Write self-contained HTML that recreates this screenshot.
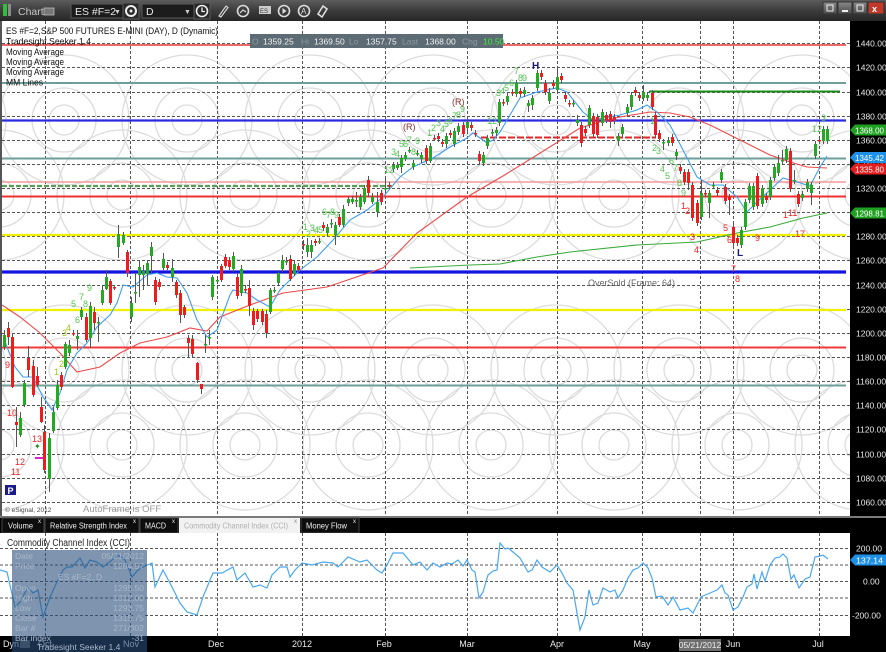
<!DOCTYPE html>
<html><head><meta charset="utf-8">
<style>
html,body{margin:0;padding:0;background:#000;width:886px;height:652px;overflow:hidden}
svg{display:block;font-family:"Liberation Sans",Arial,sans-serif}
</style></head><body>
<svg id="s" width="886" height="652" viewBox="0 0 886 652" xmlns="http://www.w3.org/2000/svg">
<defs>
<linearGradient id="tb" x1="0" y1="0" x2="0" y2="1"><stop offset="0" stop-color="#5c5c5c"/><stop offset="0.5" stop-color="#3c3c3c"/><stop offset="1" stop-color="#262626"/></linearGradient>
<linearGradient id="wb" x1="0" y1="0" x2="0" y2="1"><stop offset="0" stop-color="#8a8a8a"/><stop offset="1" stop-color="#4a4a4a"/></linearGradient>
<clipPath id="cp"><rect x="2" y="21" width="848" height="495"/></clipPath>
<clipPath id="cp2"><rect x="0" y="533" width="850" height="103"/></clipPath>
</defs>
<rect width="886" height="652" fill="#000"/>

<!-- toolbar -->
<rect x="0" y="0" width="886" height="21" fill="url(#tb)"/>
<rect x="3" y="4" width="4" height="12" fill="#2fbf3a"/>
<rect x="8" y="4" width="3" height="12" fill="#8a8a8a"/>
<text x="18" y="15" font-size="10.5" fill="#c8c8c8">Chart</text>
<rect x="44" y="8" width="10" height="7" fill="#777" stroke="#bbb" stroke-width="0.8"/>
<rect x="71" y="4" width="52" height="14" fill="#1c1c1c" stroke="#5a5a5a"/>
<text x="75" y="15" font-size="10.5" fill="#e8e8e8">ES #F=2</text>
<text x="114" y="14" font-size="7" fill="#ccc">▼</text>
<rect x="123" y="3" width="16" height="16" fill="#2a2a2a" stroke="#5a5a5a"/>
<circle cx="131" cy="11" r="5" fill="none" stroke="#eee" stroke-width="2"/>
<circle cx="131" cy="11" r="1.5" fill="#eee"/>
<rect x="142" y="4" width="52" height="14" fill="#1c1c1c" stroke="#5a5a5a"/>
<text x="146" y="15" font-size="10.5" fill="#e8e8e8">D</text>
<text x="184" y="14" font-size="7" fill="#ccc">▼</text>
<rect x="194" y="3" width="16" height="16" fill="#2a2a2a" stroke="#5a5a5a"/>
<circle cx="202" cy="11" r="5.5" fill="none" stroke="#eee" stroke-width="1.6"/>
<path d="M202 7.5V11.5H205" stroke="#eee" stroke-width="1.3" fill="none"/>
<path d="M219 16L226 6L228 7.5L221 17Z" fill="none" stroke="#ddd" stroke-width="1.1"/>
<circle cx="243" cy="11" r="5.5" fill="none" stroke="#ddd" stroke-width="1.6"/>
<path d="M240 13L243 10L246 12" stroke="#ddd" stroke-width="1.2" fill="none"/>
<rect x="259" y="6" width="12" height="8" fill="#ccc"/><text x="260" y="13" font-size="6" fill="#333">ES</text>
<circle cx="284" cy="11" r="5.5" fill="none" stroke="#ddd" stroke-width="1.6"/>
<path d="M282.5 8V14L286.5 11Z" fill="#ddd"/>
<circle cx="304" cy="11" r="5.5" fill="none" stroke="#ddd" stroke-width="1.6"/>
<text x="301" y="14" font-size="8" fill="#ddd">A</text>
<path d="M318 14L323 6L327 9L322 17Z" fill="none" stroke="#ddd" stroke-width="1.6"/>
<rect x="823" y="2" width="14" height="12" fill="url(#wb)" stroke="#333"/>
<rect x="838" y="2" width="14" height="12" fill="url(#wb)" stroke="#333"/>
<rect x="853" y="2" width="14" height="12" fill="url(#wb)" stroke="#333"/>
<rect x="868" y="2" width="16" height="12" fill="#c0392b" stroke="#333"/>
<text x="872" y="12" font-size="9" font-weight="bold" fill="#fff">x</text>
<rect x="827" y="5" width="6" height="6" fill="none" stroke="#eee"/>
<rect x="842" y="10" width="6" height="2" fill="#eee"/>
<rect x="857" y="5" width="6" height="6" fill="none" stroke="#eee"/>

<!-- main plot -->
<rect x="0" y="21" width="850" height="495" fill="#fff"/>
<rect x="0" y="21" width="2" height="495" fill="#555"/>
<g id="circ" clip-path="url(#cp)" fill="none" stroke="#dcdcdc" stroke-width="1.3"></g>
<g id="grid" stroke="#555" stroke-width="1" stroke-dasharray="3,2"></g>
<g id="vgrid" stroke="#555" stroke-width="1" stroke-dasharray="3,2"></g>

<!-- horizontal levels -->
<g fill="none">
<line x1="2" y1="45" x2="846" y2="45" stroke="#e83a3a" stroke-width="1.6"/>
<line x1="2" y1="83" x2="846" y2="83" stroke="#6e9e9a" stroke-width="2"/>
<line x1="649" y1="91.5" x2="840" y2="91.5" stroke="#1e8a1e" stroke-width="2"/>
<line x1="2" y1="120.5" x2="846" y2="120.5" stroke="#2a2ae0" stroke-width="2.2"/>
<line x1="481" y1="137.5" x2="656" y2="137.5" stroke="#e02828" stroke-width="2" stroke-dasharray="7,2"/>
<line x1="2" y1="158.5" x2="846" y2="158.5" stroke="#6e9e9a" stroke-width="2"/>
<line x1="2" y1="182" x2="846" y2="182" stroke="#f29a9a" stroke-width="1.6"/>
<line x1="2" y1="186" x2="393" y2="186" stroke="#5a9e5a" stroke-width="2.2" stroke-dasharray="5,2"/>
<line x1="2" y1="196.5" x2="846" y2="196.5" stroke="#f03030" stroke-width="2"/>
<line x1="2" y1="235" x2="846" y2="235" stroke="#f0f000" stroke-width="2.2"/>
<line x1="2" y1="272" x2="846" y2="272" stroke="#1414e0" stroke-width="3.2"/>
<line x1="2" y1="310" x2="846" y2="310" stroke="#f0f000" stroke-width="2.2"/>
<line x1="2" y1="347.5" x2="846" y2="347.5" stroke="#f03a3a" stroke-width="2"/>
<line x1="2" y1="385.5" x2="846" y2="385.5" stroke="#6e9e9a" stroke-width="2"/>
</g>

<g id="ma" fill="none" clip-path="url(#cp)"></g>
<g id="candles"></g>
<g id="labels" font-size="9"></g>

<!-- legend -->
<g font-size="9.5" fill="#111">
<text x="6" y="34" textLength="212" lengthAdjust="spacingAndGlyphs">ES #F=2,S&amp;P 500 FUTURES E-MINI (DAY), D (Dynamic)</text>
<text x="6" y="44.5" textLength="85" lengthAdjust="spacingAndGlyphs">Tradesight Seeker 1.4</text>
<text x="6" y="55" textLength="58" lengthAdjust="spacingAndGlyphs">Moving Average</text>
<text x="6" y="65" textLength="58" lengthAdjust="spacingAndGlyphs">Moving Average</text>
<text x="6" y="75" textLength="58" lengthAdjust="spacingAndGlyphs">Moving Average</text>
<text x="6" y="85.5" textLength="37" lengthAdjust="spacingAndGlyphs">MM Lines</text>
</g>

<!-- data box top -->
<rect x="250" y="34" width="253" height="14" fill="#5d6b74"/>
<g font-size="8.5">
<text x="252" y="44.5" fill="#8d9aa2">O</text>
<text x="263" y="44.5" fill="#f2f2f2">1359.25</text>
<text x="301" y="44.5" fill="#8d9aa2">Hi</text>
<text x="314" y="44.5" fill="#f2f2f2">1369.50</text>
<text x="349" y="44.5" fill="#8d9aa2">Lo</text>
<text x="366" y="44.5" fill="#f2f2f2">1357.75</text>
<text x="402" y="44.5" fill="#8d9aa2">Last</text>
<text x="425" y="44.5" fill="#f2f2f2">1368.00</text>
<text x="462" y="44.5" fill="#8d9aa2">Chg</text>
<text x="483" y="44.5" fill="#3cf03c">10.50</text>
</g>

<!-- misc annotations -->
<rect x="5" y="485" width="11" height="10" fill="#1a1a8c"/>
<text x="7.5" y="494" font-size="9" font-weight="bold" fill="#fff">P</text>
<text x="5" y="512" font-size="6.5" fill="#444">© eSignal, 2012</text>
<text x="83" y="512" font-size="9.5" fill="#9a9a9a">AutoFrame is OFF</text>
<text x="588" y="286" font-size="9" fill="#666">OverSold (Frame: 64)</text>
<line x1="35" y1="458" x2="43" y2="458" stroke="#e020d0" stroke-width="2"/>
<text x="34" y="449" font-size="8" fill="#1a8a1a">✦</text>

<!-- right axis -->
<rect x="850" y="21" width="36" height="495" fill="#000"/>
<g id="axl" font-size="8.5" fill="#e6e6e6"></g>
<!-- price tags -->
<g font-size="8.5" fill="#fff">
<path d="M850 130L855 124.5H886V135.5H855Z" fill="#20a020"/><text x="855" y="133.5" textLength="29" lengthAdjust="spacingAndGlyphs">1368.00</text>
<path d="M850 157.5L855 152H886V163H855Z" fill="#1e90e8"/><text x="855" y="161" textLength="29" lengthAdjust="spacingAndGlyphs">1345.42</text>
<path d="M850 169L855 163.5H886V174.5H855Z" fill="#e41e1e"/><text x="855" y="172.5" textLength="29" lengthAdjust="spacingAndGlyphs">1335.80</text>
<path d="M850 213L855 207.5H886V218.5H855Z" fill="#20a020"/><text x="855" y="216.5" textLength="29" lengthAdjust="spacingAndGlyphs">1298.81</text>
</g>

<!-- separator and tabs -->
<rect x="0" y="516" width="886" height="2" fill="#7a7a7a"/>
<rect x="0" y="518" width="886" height="15" fill="#000"/>
<g font-size="8.5" fill="#eee">
<rect x="2" y="518" width="42" height="15" fill="#0d0d0d" stroke="#444"/>
<text x="8" y="528.5" textLength="25" lengthAdjust="spacingAndGlyphs">Volume</text><text x="38" y="523" font-size="6">x</text>
<rect x="45" y="518" width="94" height="15" fill="#0d0d0d" stroke="#444"/>
<text x="50" y="528.5" textLength="77" lengthAdjust="spacingAndGlyphs">Relative Strength Index</text><text x="133" y="523" font-size="6">x</text>
<rect x="140" y="518" width="38" height="15" fill="#0d0d0d" stroke="#444"/>
<text x="145" y="528.5" textLength="21" lengthAdjust="spacingAndGlyphs">MACD</text><text x="172" y="523" font-size="6">x</text>
<rect x="179" y="518" width="121" height="15" fill="#f2f2f2"/>
<text x="184" y="528.5" fill="#b0b0b0" textLength="104" lengthAdjust="spacingAndGlyphs">Commodity Channel Index (CCI)</text><text x="294" y="523" font-size="6" fill="#888">x</text>
<rect x="301" y="518" width="58" height="15" fill="#0d0d0d" stroke="#444"/>
<text x="306" y="528.5" textLength="41" lengthAdjust="spacingAndGlyphs">Money Flow</text><text x="353" y="523" font-size="6">x</text>
</g>

<!-- CCI panel -->
<rect x="0" y="533" width="850" height="103" fill="#fff"/>
<g stroke="#555" stroke-width="1" stroke-dasharray="3,2">
<line x1="0" y1="548.5" x2="855" y2="548.5"/>
<line x1="0" y1="565" x2="850" y2="565"/>
<line x1="0" y1="581.5" x2="855" y2="581.5"/>
<line x1="0" y1="598" x2="850" y2="598"/>
<line x1="0" y1="615.5" x2="855" y2="615.5"/>
</g>
<g id="vgrid2" stroke="#555" stroke-width="1" stroke-dasharray="3,2"></g>
<text x="7" y="546" font-size="10" fill="#222" textLength="123" lengthAdjust="spacingAndGlyphs">Commodity Channel Index (CCI)</text>
<polyline id="cci" fill="none" stroke="#4aa8f0" stroke-width="1.2" clip-path="url(#cp2)" points=""/>
<rect x="850" y="533" width="36" height="103" fill="#000"/>
<g font-size="8.5" fill="#e6e6e6">
<text x="856" y="551.5">200.00</text>
<text x="863" y="584.5">0.00</text>
<text x="852" y="618.5">-200.00</text>
</g>
<path d="M850 560L855 554.5H886V565.5H855Z" fill="#1e90e8"/><text x="856" y="563.5" font-size="8.5" fill="#fff" textLength="27" lengthAdjust="spacingAndGlyphs">137.14</text>

<!-- bottom axis -->
<rect x="0" y="636" width="886" height="16" fill="#000"/>
<g font-size="9" fill="#e8e8e8" text-anchor="middle">
<text x="45" y="647">Oct</text><text x="131" y="647">Nov</text><text x="216" y="647">Dec</text>
<text x="302" y="647">2012</text><text x="384" y="647">Feb</text><text x="467" y="647">Mar</text>
<text x="557" y="647">Apr</text><text x="642" y="647">May</text><text x="733" y="647">Jun</text><text x="818" y="647">Jul</text>
</g>
<text x="3" y="647" font-size="9" fill="#eee">Dyn</text>
<rect x="20" y="640" width="10" height="8" fill="#555"/>
<rect x="679" y="639" width="42" height="12" fill="#6e6e6e"/>
<text x="700" y="648" font-size="8.5" fill="#eee" text-anchor="middle">05/21/2012</text>

<!-- data overlay -->
<rect x="12" y="550" width="135" height="102" fill="rgba(40,76,122,0.6)"/>
<g font-size="8.5" fill="#a9b8ca">
<text x="15" y="559">Date</text><text x="144" y="559" text-anchor="end">05/21/2012</text>
<text x="15" y="569">Price</text><text x="144" y="569" text-anchor="end">1284.57</text>
<text x="80" y="580" text-anchor="middle">ES #F=2, D</text>
<text x="15" y="591">Open</text><text x="144" y="591" text-anchor="end">1295.50</text>
<text x="15" y="601">High</text><text x="144" y="601" text-anchor="end">1312.00</text>
<text x="15" y="611">Low</text><text x="144" y="611" text-anchor="end">1293.75</text>
<text x="15" y="621">Close</text><text x="144" y="621" text-anchor="end">1315.75</text>
<text x="15" y="631">Bar #</text><text x="144" y="631" text-anchor="end">271/302</text>
<text x="15" y="641">Bar index</text><text x="144" y="641" text-anchor="end">-31</text>
<text x="37" y="650">Tradesight Seeker 1.4</text>
</g>
</svg>
<script>
(function(){
var NS="http://www.w3.org/2000/svg";
function el(t,a,p,tx){var e=document.createElementNS(NS,t);for(var k in a)e.setAttribute(k,a[k]);if(tx!=null)e.textContent=tx;p.appendChild(e);return e;}
// circles
var cg=document.getElementById('circ');
var rows=[[120,187],[195,122],[370,187],[445,122]];
rows.forEach(function(r){for(var i=-2;i<8;i++){var cx=r[1]+123*i;[15,32,65].forEach(function(rad){el('circle',{cx:cx,cy:r[0],r:rad},cg);});}});
// grid + axis labels
var gg=document.getElementById('grid'),ax=document.getElementById('axl');
for(var k=0;k<20;k++){var y=Math.round(43.3+k*24.13)+0.5;el('line',{x1:2,y1:y,x2:855,y2:y},gg);el('text',{x:856,y:y+3},ax,(1440-20*k).toFixed(2));}
var vx=[45,130,217,302,385,467,557,642,700,733,819];
var vg=document.getElementById('vgrid'),vg2=document.getElementById('vgrid2');
vx.forEach(function(x){el('line',{x1:x+0.5,y1:21,x2:x+0.5,y2:516},vg);el('line',{x1:x+0.5,y1:533,x2:x+0.5,y2:636},vg2);});
// moving averages
var ma=document.getElementById('ma');
var red=[[2,305],[20,317],[40,333],[60,353],[77,372],[100,367],[120,353],[140,343],[167,337],[190,328],[207,331],[220,317],[250,305],[283,293],[327,287],[383,268],[417,233],[467,197],[503,176],[537,155],[580,128],[603,121],[620,117],[650,112],[670,113],[690,117],[710,125],[730,135],[750,145],[770,155],[790,162],[807,167],[827,168]];
var blue=[[3,335],[7,347],[15,367],[23,377],[33,377],[43,397],[52,410],[60,393],[67,370],[77,353],[87,343],[97,327],[110,315],[117,303],[123,285],[133,287],[147,275],[157,273],[167,277],[177,278],[187,293],[197,320],[207,337],[217,330],[230,295],[233,290],[247,293],[257,300],[270,307],[280,290],[300,270],[317,257],[333,240],[350,220],[367,210],[383,197],[400,177],[413,167],[433,158],[450,147],[467,138],[473,133],[487,143],[493,140],[500,132],[520,98],[537,92],[557,88],[567,92],[583,112],[593,120],[603,118],[620,115],[637,110],[647,105],[657,112],[670,125],[683,150],[697,177],[710,185],[723,185],[737,197],[747,212],[757,202],[770,190],[783,178],[797,182],[810,186],[820,167],[827,156]];
var grn=[[410,268],[470,265],[500,264],[537,257],[570,252],[637,245],[697,242],[737,233],[770,227],[803,218],[827,213]];
function pl(a,c,w){el('polyline',{points:a.map(function(p){return p.join(',');}).join(' '),stroke:c,'stroke-width':w,fill:'none'},ma);}
pl(red,'#ee4a4a',1.1);pl(grn,'#3aaa3a',1.1);pl(blue,'#3f9ef0',1.1);
// candles [x,top,bottom,green?,wickTop,wickBottom]
var C=[[4,335,347,1,330,350],[8,328,337,0,322,345],[12,337,387,0,333,388],[16,422,425,0,407,447],[20,418,435,1,412,437],[24,383,405,1,380,407],[28,358,370,0,346,377],[33,366,395,0,360,397],[37,376,385,0,367,387],[41,407,422,0,397,423],[44,432,470,0,425,473],[49,438,479,1,433,492],[53,412,431,1,407,433],[57,385,408,1,380,410],[61,375,387,0,372,390],[65,344,367,1,342,369],[69,345,353,1,340,356],[73,333,334,0,330,336],[77,336,339,1,330,350],[81,310,317,1,307,320],[86,317,340,0,313,342],[90,306,338,1,302,348],[94,312,323,0,307,330],[98,322,323,1,317,342],[102,290,303,1,286,305],[106,277,289,1,270,290],[110,281,303,0,279,305],[114,287,288,0,285,290],[118,234,247,1,225,258],[123,235,243,1,232,245],[127,252,273,0,250,277],[131,303,317,1,297,322],[135,292,293,1,273,303],[139,267,275,1,260,297],[143,271,275,1,265,290],[147,263,274,1,260,285],[151,247,256,1,242,273],[155,280,302,0,277,305],[159,282,287,0,279,290],[163,259,268,1,253,270],[167,265,268,0,262,270],[172,268,277,1,259,282],[176,282,295,0,280,298],[180,293,315,0,290,323],[184,307,315,0,305,318],[188,338,343,0,335,357],[192,339,354,0,335,357],[197,363,380,0,362,383],[201,384,389,0,384,394],[205,344,345,1,335,353],[209,337,338,1,330,345],[212,277,297,1,275,300],[217,280,281,1,276,284],[221,266,280,0,264,282],[225,257,266,0,254,268],[229,260,267,0,257,270],
[233,256,269,1,252,272],[237,277,296,0,273,299],[241,269,293,1,265,296],[245,289,290,0,285,293],[249,288,306,0,280,316],[253,311,325,0,308,330],[257,311,319,0,309,322],[262,311,322,0,309,325],[266,314,333,0,310,338],[270,290,312,1,288,314],[274,290,291,1,287,293],[278,273,283,1,270,285],[282,260,269,1,255,272],[286,261,262,1,257,265],[290,259,279,0,255,281],[294,264,274,1,260,276],[298,266,270,0,263,272],[303,244,245,0,240,250],[307,245,252,1,238,257],[311,245,252,1,240,258],[315,241,243,0,239,246],[319,241,242,1,238,244],[323,225,228,0,222,231],[327,227,233,1,224,236],[331,223,224,1,219,228],[335,225,235,1,222,245],[339,217,225,0,214,227],[343,209,225,1,205,227],[348,199,203,1,196,206],[352,199,202,1,196,204],[356,200,201,1,192,207],[360,197,207,1,194,210],[364,188,202,1,185,204],[368,180,193,0,176,197],[372,197,202,1,193,204],[377,202,212,1,192,217],[381,193,202,0,190,205],[385,188,189,1,178,192],[389,185,186,0,182,188],[393,165,169,1,162,172],[397,165,168,1,162,170],[401,158,167,1,155,173],[405,155,159,1,152,161],[409,150,151,1,147,153],[413,163,167,1,160,170],[417,153,154,1,150,156],[421,155,159,1,152,163],[426,148,161,0,145,164],[430,146,161,1,143,163],[434,138,139,0,135,141],[438,136,139,0,133,142],[442,142,144,0,139,147],[446,136,144,1,133,148],[450,133,135,0,130,138],[454,131,144,1,128,147],[458,126,132,1,123,135],[463,125,134,0,122,137],[467,122,128,1,119,131],[471,125,128,0,122,131],[475,133,134,0,130,137],[479,154,161,0,151,164],[483,155,163,1,152,166],[487,138,146,1,135,149],[492,132,133,1,129,136],[496,130,133,1,127,136],[499,102,123,1,99,126],[503,102,103,0,99,106],[507,96,102,1,93,105],[512,92,93,0,89,96],[516,83,94,1,80,97],[520,91,94,0,88,97],[524,90,94,1,87,97],[528,103,106,1,100,112],[532,98,105,1,95,110],[537,73,88,1,70,91],[541,73,77,0,70,80],[545,83,92,0,80,95],[549,93,101,1,88,104],[553,83,86,0,80,89],[557,77,90,1,68,93],[561,76,80,0,73,83],[565,95,99,0,92,102],[569,103,104,0,100,107],[573,103,104,1,100,107],[577,120,123,1,115,126],[581,125,143,0,122,147],[585,129,133,0,126,136],[589,108,125,1,105,128],[593,116,134,0,113,137],[597,117,135,0,114,138],[602,112,123,1,109,126],[606,115,120,0,112,123],[610,114,122,0,111,128],[614,117,121,0,114,124],[618,136,141,1,133,146],[622,127,134,1,124,137],[627,107,113,1,104,116],[631,95,107,1,92,110],[635,90,93,0,87,96],[639,95,98,0,92,101],[643,92,98,1,85,101],[647,95,98,1,92,101],[652,93,107,0,90,110],[655,115,135,0,112,138],[659,133,139,0,130,142],[663,142,143,1,139,150],[668,140,143,1,137,146],[672,137,143,0,134,146],[676,152,156,1,149,160],[680,167,171,0,164,174],[684,172,182,0,169,185],[688,172,183,0,169,190],[692,185,218,0,182,221],[697,203,223,0,200,226],[701,193,217,1,180,220],[705,193,194,0,190,197],[709,193,203,1,190,218],[713,185,186,1,182,189],[717,190,193,0,187,196],[721,172,180,1,169,183],[725,187,201,0,184,204],[729,197,200,0,194,215],[733,227,243,0,224,246],[737,238,243,0,235,246],[741,230,245,1,227,248],[745,202,227,1,199,230],[749,186,200,1,183,203],[753,186,207,1,183,210],[757,176,206,0,173,209],[762,188,204,1,185,207],[766,196,200,0,193,203],[770,180,197,1,177,200],[774,167,178,1,164,181],[778,163,173,1,155,176],[782,160,161,1,150,164],[786,149,160,1,146,163],[790,151,189,0,148,192],[794,180,181,1,170,184],[798,194,204,0,191,207],[802,194,198,1,191,201],[807,182,189,1,179,192],[811,185,193,1,182,205],[815,144,156,1,141,159],[819,140,141,0,137,144],[823,129,141,1,126,144],[827,129,141,1,126,144]];
var cd=document.getElementById('candles');
C.forEach(function(c){var x=c[0];el('line',{x1:x+0.5,y1:c[4],x2:x+0.5,y2:c[5],stroke:'#555','stroke-width':1},cd);var h=Math.max(1.5,c[2]-c[1]);el('rect',{x:x-1,y:c[1],width:3,height:h,fill:c[3]?'#22aa22':'#ee1c1c'},cd);});
// labels
var lg=document.getElementById('labels');
var G='#55c255',R='#ee2020',Y='#a4c220';
var L=[["1",303,230,G],["2",306,237,G],["3",310,231,G],["4",314,233,G],["5",318,233,G],["6",322,215,G],["7",326,218,G],["8",330,215,G],["9",334,218,G],
["12",384,173,G],["3",391,155,G],["4",395,157,G],["5",399,147,G],["6",403,147,G],["7",407,143,G],["8",411,155,G],["9",415,144,G],
["1",427,136,G],["2",431,131,G],["3",436,126,G],["4",440,132,G],["5",444,127,G],["6",448,124,G],["7",452,119,G],["8",456,118,G],["9",460,112,G],
["12",487,124,G],["3",496,96,G],["4",500,94,G],["5",504,91,G],["6",509,86,G],["7",514,74,G],["8",518,81,G],["9",522,81,G],
["1",650,124,G],["2",652,151,G],["3",656,154,G],["4",660,172,G],["5",665,179,G],["6",669,164,G],["7",673,171,G],["8",677,186,G],["9",681,196,G],
["12",812,132,G],["3",821,121,G],
["1",54,375,Y],["2",59,367,Y],["3",62,336,Y],["4",66,331,Y],["5",71,307,G],["6",75,323,G],["7",79,300,G],["8",83,307,G],["9",87,291,G],
["9",5,368,R],["10",7,416,R],["13",32,442,R],["12",15,465,R],["11",11,475,R],
["1",681,209,R],["2",685,214,R],["3",690,240,R],["4",694,253,R],["5",723,231,R],["6",727,243,R],["7",731,272,R],["8",735,282,R],["9",755,241,R],["1",783,218,R],["11",788,216,R],["17",795,237,R],
["(R)",403,130,'#8a3030'],["(R)",452,105,'#8a3030']];
L.forEach(function(l){el('text',{x:l[1],y:l[2],fill:l[3]},lg,l[0]);});
el('text',{x:532,y:69,fill:'#1a1a80','font-size':10,'font-weight':'bold'},lg,'H');
el('text',{x:737,y:256,fill:'#1a1a80','font-size':10,'font-weight':'bold'},lg,'L');
// CCI
var cci=[[0,570],[7,572],[15,607],[20,602],[28,587],[33,593],[38,590],[43,617],[50,597],[57,582],[63,570],[67,567],[72,567],[80,558],[85,568],[90,560],[97,562],[103,567],[112,560],[118,555],[125,560],[132,577],[138,570],[143,567],[152,563],[155,587],[163,570],[172,587],[180,603],[187,612],[197,615],[203,597],[210,580],[213,573],[222,573],[233,567],[237,580],[245,573],[253,587],[260,585],[267,588],[272,575],[280,567],[287,567],[290,577],[295,570],[302,563],[312,565],[323,562],[333,563],[338,567],[348,557],[360,562],[367,560],[377,570],[382,573],[387,565],[393,553],[403,553],[413,565],[420,562],[427,570],[433,563],[440,567],[447,563],[452,564],[458,560],[463,566],[467,560],[472,570],[475,572],[479,598],[483,592],[488,575],[493,571],[497,570],[500,543],[505,549],[508,548],[513,552],[520,558],[528,572],[532,570],[537,560],[542,567],[550,572],[557,565],[562,573],[567,583],[573,590],[580,630],[585,617],[589,590],[593,605],[598,603],[603,588],[610,592],[615,590],[618,598],[623,590],[628,578],[633,570],[638,568],[643,563],[648,568],[652,578],[656,597],[662,596],[668,605],[673,597],[680,610],[688,608],[693,613],[698,603],[701,597],[710,593],[717,590],[722,585],[725,593],[728,595],[733,610],[738,607],[743,597],[747,587],[752,584],[754,574],[757,589],[762,572],[765,581],[770,565],[775,558],[780,557],[783,554],[787,558],[791,579],[794,575],[799,588],[805,579],[810,577],[815,557],[820,556],[823,555],[828,559]];
document.getElementById('cci').setAttribute('points',cci.map(function(p){return p.join(',');}).join(' '));
})();
</script>
</body></html>
